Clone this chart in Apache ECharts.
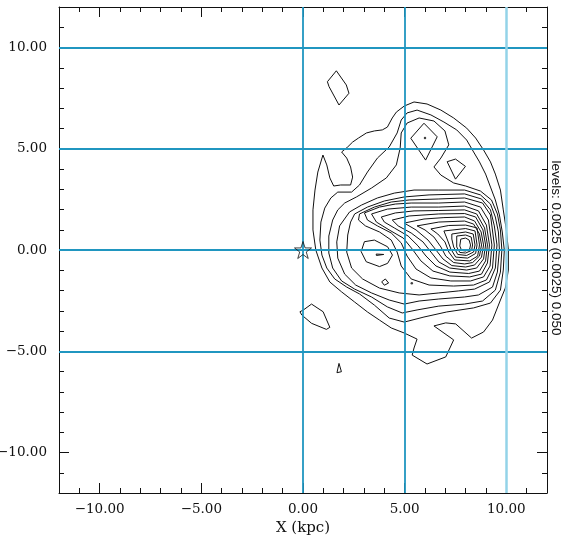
<!DOCTYPE html>
<html><head><meta charset="utf-8">
<script src="https://cdn.jsdelivr.net/npm/echarts@6/dist/echarts.min.js"></script>
<style>html,body{margin:0;padding:0;background:#fff}#c{width:570px;height:536px}</style>
</head><body><div id="c"></div>
<script>
// ---- data (kpc) ----
const xTickValues = [-10, -5, 0, 5, 10];
const yTickValues = [-10, -5, 0, 5, 10];
const hGridValues = [10, 5, 0, -5];
const vGridValues = [0, 5, 10];
const levelsText = 'levels: 0.0025 (0.0025) 0.050';
const starPoint = [[0, 0]];
const peakDots = [[6.00, 5.53], [5.35, -1.64]];

const contourL1 = [[0.98,4.69],[1.17,4.20],[1.32,3.56],[1.51,3.16],[1.85,3.21],[2.34,3.21],[2.44,3.60],[2.34,4.10],[2.15,4.54],[1.90,4.84],[2.20,5.09],[2.44,5.33],[2.73,5.53],[3.12,5.78],[3.51,5.88],[3.90,5.93],[4.15,6.07],[4.39,6.52],[4.59,6.81],[4.98,7.11],[5.46,7.31],[6.10,7.21],[6.78,6.91],[7.41,6.52],[8.05,6.02],[8.49,5.53],[8.88,4.94],[9.22,4.35],[9.46,3.75],[9.71,2.96],[9.85,1.98],[10.00,0.99],[10.10,0],[10.10,-0.99],[9.95,-1.88],[9.71,-2.47],[9.32,-3.46],[8.88,-4.05],[8.29,-4.35],[7.51,-3.65],[7.02,-3.60],[6.44,-3.75],[7.41,-4.44],[7.02,-5.28],[6.10,-5.63],[5.37,-5.19],[5.46,-4.84],[5.61,-4.40],[4.98,-4.10],[4.34,-3.85],[3.76,-3.46],[3.17,-3.06],[2.54,-2.57],[1.90,-2.07],[1.32,-1.58],[0.93,-0.89],[0.63,0],[0.49,0.99],[0.49,1.98],[0.59,2.96],[0.73,3.85],[0.98,4.69]];
const contourL2 = [[1.71,2.86],[2.39,2.86],[2.78,3.21],[3.17,3.85],[3.66,4.54],[4.24,5.09],[4.63,5.78],[4.83,6.42],[5.12,6.77],[5.61,6.91],[6.29,6.67],[6.93,6.32],[7.56,5.93],[8.05,5.43],[8.39,4.84],[8.68,4.35],[8.98,3.75],[9.22,3.11],[9.46,2.47],[9.66,1.73],[9.80,0.89],[9.90,0],[9.85,-0.99],[9.71,-1.98],[9.22,-2.62],[8.39,-2.86],[7.07,-3.06],[5.95,-3.31],[4.98,-3.56],[4.24,-3.36],[3.51,-2.72],[2.78,-2.17],[2.15,-1.83],[1.56,-1.43],[1.17,-0.89],[0.93,-0.25],[0.83,0.49],[0.88,1.38],[1.07,2.07],[1.37,2.57],[1.71,2.86]];
const contourL3 = [[2.05,2.32],[2.63,2.62],[3.37,3.06],[4.10,3.56],[4.59,4.20],[4.78,5.04],[4.83,5.78],[5.12,6.27],[5.71,6.52],[6.44,6.37],[6.98,5.88],[7.17,5.19],[6.78,4.54],[6.44,4.10],[6.78,3.70],[7.41,3.31],[8.00,3.16],[8.73,2.91],[9.27,2.47],[9.56,1.78],[9.71,0.99],[9.78,0],[9.71,-1.09],[9.46,-1.98],[8.83,-2.52],[7.95,-2.67],[6.68,-2.77],[5.61,-2.96],[4.88,-3.11],[4.15,-2.81],[3.37,-2.32],[2.54,-1.93],[1.90,-1.53],[1.46,-0.89],[1.27,-0.15],[1.27,0.69],[1.46,1.48],[1.71,1.98],[2.05,2.32]];
const contourTopDiamond = [[5.30,5.52],[5.95,6.26],[6.60,5.59],[6.03,4.44],[5.30,5.52]];
const contourTopSmall = [[7.09,4.36],[7.50,4.49],[7.99,4.13],[7.50,3.50],[7.09,4.36]];
const contourL4 = [[2.29,1.88],[2.88,2.22],[3.66,2.57],[4.49,2.81],[5.46,2.96],[6.68,2.96],[7.95,2.96],[8.73,2.72],[9.22,2.27],[9.46,1.63],[9.61,0.89],[9.66,0],[9.56,-1.09],[9.32,-1.83],[8.63,-2.22],[7.95,-2.32],[6.68,-2.42],[5.71,-2.52],[4.98,-2.67],[4.24,-2.47],[3.37,-2.12],[2.59,-1.73],[2.05,-1.19],[1.71,-0.40],[1.66,0.40],[1.80,1.19],[2.29,1.88]];
const contourL5 = [[2.54,1.78],[3.17,2.12],[4.00,2.42],[4.98,2.62],[6.20,2.72],[7.95,2.77],[8.78,2.52],[9.22,1.98],[9.41,1.19],[9.54,0.25],[9.46,-0.89],[9.17,-1.58],[8.44,-1.93],[7.66,-2.02],[6.68,-2.12],[5.71,-2.22],[4.73,-2.12],[3.76,-1.88],[2.93,-1.43],[2.39,-0.89],[2.15,-0.10],[2.20,0.74],[2.34,1.38],[2.54,1.78]];
const contourL6 = [[2.78,1.78],[3.51,2.12],[4.34,2.37],[5.22,2.47],[6.68,2.52],[7.95,2.57],[8.83,2.32],[9.22,1.73],[9.41,0.25],[9.32,-0.89],[9.02,-1.48],[8.39,-1.73],[7.41,-1.78],[6.20,-1.73],[5.32,-1.43],[4.83,-0.79],[4.63,-0.10],[4.34,0.49],[3.76,0.89],[3.07,1.19],[2.73,1.48],[2.78,1.78]];
const contourSecondary = [[2.86,-0.08],[3.02,0.41],[3.51,0.49],[4.16,0.16],[4.40,-0.25],[4.16,-0.66],[3.76,-0.82],[3.11,-0.58],[2.86,-0.08]];
const contourSecondaryCore = [[3.60,-0.20],[3.97,-0.22],[3.95,-0.29],[3.61,-0.27],[3.60,-0.20]];
const contourL7 = [[3.02,1.83],[3.76,2.12],[4.54,2.27],[5.32,2.32],[6.68,2.32],[7.95,2.37],[8.73,2.12],[9.12,1.48],[9.29,0.25],[9.20,-0.79],[8.88,-1.33],[8.24,-1.53],[7.27,-1.53],[6.29,-1.38],[5.56,-0.94],[5.12,-0.30],[4.83,0.35],[4.34,0.84],[3.66,1.19],[3.17,1.48],[3.02,1.83]];
const contourL8 = [[3.37,1.78],[4.15,2.02],[5.32,2.12],[6.68,2.12],[7.95,2.17],[8.63,1.93],[9.02,1.23],[9.17,0.25],[9.07,-0.64],[8.78,-1.19],[8.20,-1.33],[7.22,-1.28],[6.39,-1.04],[5.80,-0.54],[5.37,0.05],[4.93,0.59],[4.24,0.99],[3.61,1.38],[3.37,1.78]];
const contourL9 = [[3.85,1.63],[4.54,1.83],[5.46,1.93],[6.68,1.95],[7.95,1.98],[8.54,1.78],[8.93,1.09],[9.07,0.25],[8.98,-0.54],[8.68,-1.04],[8.15,-1.16],[7.22,-1.09],[6.54,-0.79],[6.05,-0.30],[5.66,0.20],[5.17,0.69],[4.49,1.09],[4.00,1.38],[3.85,1.63]];
const contourL10 = [[4.39,1.48],[5.22,1.68],[6.68,1.78],[7.95,1.80],[8.49,1.63],[8.85,0.99],[8.98,0.25],[8.88,-0.44],[8.54,-0.89],[8.05,-0.99],[7.22,-0.89],[6.68,-0.59],[6.29,-0.10],[5.90,0.40],[5.32,0.84],[4.68,1.19],[4.39,1.48]];
const contourL11 = [[4.98,1.33],[5.95,1.53],[6.93,1.60],[7.95,1.63],[8.44,1.43],[8.76,0.89],[8.88,0.25],[8.78,-0.35],[8.44,-0.74],[8.00,-0.84],[7.32,-0.77],[6.88,-0.44],[6.54,0],[6.15,0.49],[5.56,0.99],[4.98,1.33]];
const contourL12 = [[5.61,1.19],[6.68,1.38],[7.95,1.43],[8.39,1.28],[8.68,0.79],[8.78,0.25],[8.68,-0.30],[8.34,-0.62],[7.95,-0.69],[7.41,-0.62],[7.02,-0.30],[6.78,0.15],[6.44,0.64],[6.00,0.99],[5.61,1.19]];
const contourL13 = [[6.29,1.04],[7.17,1.21],[8.00,1.23],[8.56,1.09],[8.68,0.25],[8.59,-0.30],[8.20,-0.54],[7.46,-0.49],[7.17,-0.10],[6.98,0.40],[6.63,0.79],[6.29,1.04]];
const contourL14 = [[6.93,0.94],[8.00,1.06],[8.46,0.94],[8.56,0.25],[8.49,-0.17],[8.10,-0.40],[7.51,-0.35],[7.27,0.05],[7.07,0.59],[6.93,0.94]];
const contourL15 = [[7.32,0.79],[8.00,0.89],[8.37,0.79],[8.46,0.25],[8.39,-0.10],[8.05,-0.27],[7.61,-0.22],[7.41,0.15],[7.32,0.54],[7.32,0.79]];
const contourL16 = [[7.56,0.69],[8.00,0.74],[8.27,0.64],[8.34,0.25],[8.29,-0.02],[8.00,-0.15],[7.71,-0.12],[7.56,0.15],[7.56,0.69]];
const contourL17 = [[7.76,0.54],[8.00,0.59],[8.17,0.49],[8.24,0.25],[8.20,0.05],[8.00,-0.05],[7.80,-0.02],[7.71,0.20],[7.76,0.54]];
const islandNorth = [[1.64,8.85],[2.13,8.15],[2.26,7.74],[1.77,7.16],[1.28,8.07],[1.20,8.31],[1.64,8.85]];
const islandSouthWest = [[0.42,-2.67],[0.99,-3.05],[1.32,-3.82],[1.15,-3.92],[0.42,-3.62],[-0.06,-3.21],[-0.15,-3.05],[0.02,-2.96],[0.42,-2.67]];
const islandSouth = [[1.77,-5.60],[1.89,-6.01],[1.67,-6.06],[1.77,-5.60]];
const islandSmall = [[3.87,-1.57],[4.05,-1.43],[4.21,-1.63],[4.00,-1.74],[3.87,-1.57]];

const contours = [contourL1, contourL2, contourL3, contourTopDiamond, contourTopSmall, contourL4, contourL5,
  contourL6, contourSecondary, contourSecondaryCore, contourL7, contourL8, contourL9, contourL10, contourL11,
  contourL12, contourL13, contourL14, contourL15, contourL16, contourL17,
  islandNorth, islandSouthWest, islandSouth, islandSmall];

// ---- chart ----
const fmt = v => (v < 0 ? '\u2212' : '') + Math.abs(v).toFixed(2);
const serif = '"DejaVu Serif", "Liberation Serif", serif';
const black = '#111';
function minorAxis(pos) {
  return { type: 'value', min: -12, max: 12, interval: 1, position: pos,
    axisLine: { show: true, onZero: false, lineStyle: { color: black, width: 1 } },
    axisTick: { show: true, inside: true, length: 5, lineStyle: { color: black } },
    axisLabel: { show: false }, splitLine: { show: false } };
}
function majorAxis(pos, vals, labels, extra, margin) {
  return Object.assign({ type: 'value', min: -12, max: 12, position: pos,
    axisLine: { show: false, onZero: false },
    axisTick: { show: true, inside: true, length: 10, customValues: vals, lineStyle: { color: black } },
    axisLabel: labels ? { show: true, customValues: vals, formatter: fmt, color: black,
      fontFamily: serif, fontSize: 13.5, margin: margin } : { show: false },
    splitLine: { show: false } }, extra || {});
}
const gridColor = '#2096c0';
const gridColorLight = '#93d3e8';
const markData = hGridValues.map(v => ({ yAxis: v }))
  .concat(vGridValues.map(v => ({ xAxis: v, lineStyle: { color: v === 10 ? gridColorLight : gridColor, width: v === 10 ? 2.5 : 1.8 } })));

const series = contours.map(c => ({
  type: 'line', data: c, showSymbol: false, symbol: 'none', smooth: false,
  lineStyle: { color: black, width: 1 }, silent: true, z: 3, animation: false
}));
series.push({ type: 'scatter', data: peakDots, symbol: 'circle', symbolSize: 2.5,
  itemStyle: { color: black }, z: 4, animation: false });
series.push({ type: 'scatter', data: starPoint,
  symbol: 'path://M50,2 L61.5,36 L97,36 L68,57.5 L79,92 L50,71 L21,92 L32,57.5 L3,36 L38.5,36 Z',
  symbolSize: 17, itemStyle: { color: 'rgba(255,255,255,0)', borderColor: black, borderWidth: 1 }, z: 6, animation: false });
series.push({ type: 'line', data: [], z: 5, animation: false,
  markLine: { silent: true, symbol: ['none', 'none'], label: { show: false }, animation: false,
    lineStyle: { color: gridColor, width: 1.8, type: 'solid' }, data: markData } });

const chart = echarts.init(document.getElementById('c'), null, { renderer: 'canvas' });
chart.setOption({
  backgroundColor: '#fff',
  animation: false,
  grid: { left: 59, right: 23, top: 7, bottom: 43, containLabel: false, outerBoundsMode: 'none' },
  xAxis: [
    minorAxis('bottom'),
    majorAxis('bottom', xTickValues, true, { name: 'X (kpc)', nameLocation: 'middle', nameGap: 27,
      nameTextStyle: { fontFamily: serif, fontSize: 15, color: black } }, 9),
    minorAxis('top'),
    majorAxis('top', xTickValues, false)
  ],
  yAxis: [
    minorAxis('left'),
    majorAxis('left', yTickValues, true, { name: 'Y (kpc)', nameLocation: 'middle', nameGap: 47,
      nameTextStyle: { fontFamily: serif, fontSize: 15, color: black } }, 12),
    minorAxis('right'),
    majorAxis('right', yTickValues, false)
  ],
  series: series,
  graphic: [{ type: 'text', x: 556, y: 248, rotation: -Math.PI / 2,
    style: { text: levelsText, font: '13.5px "Liberation Sans", Arial, sans-serif', fill: black,
      textAlign: 'center', textVerticalAlign: 'middle' } }]
});
</script></body></html>
